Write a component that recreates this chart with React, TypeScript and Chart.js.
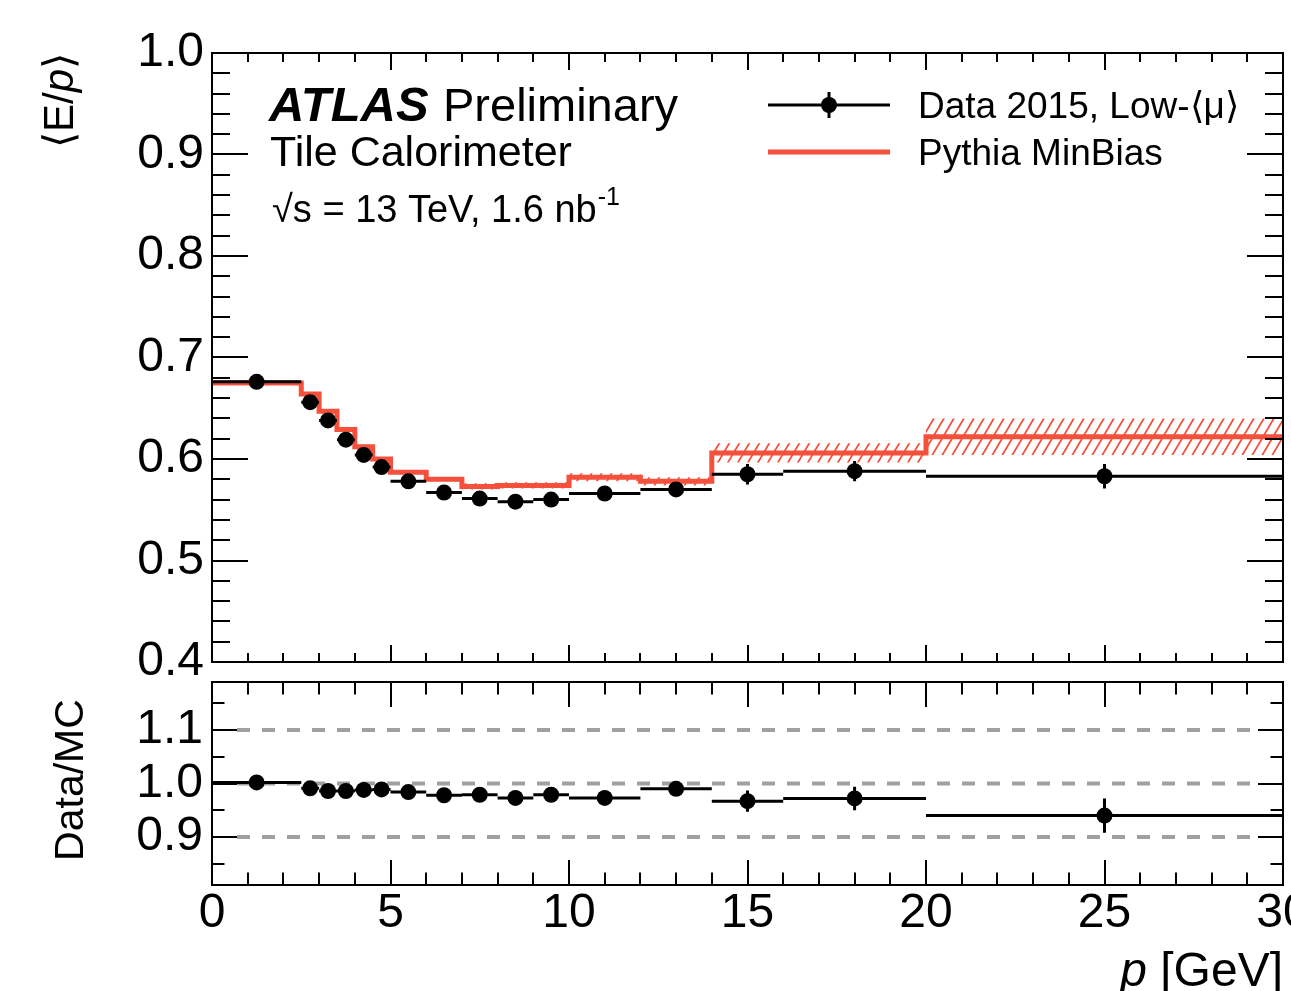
import React, { useEffect, useRef } from 'react';
import { Chart, registerables } from 'chart.js';

Chart.register(...registerables);

// ---------------- data ----------------
const binEdges = [0, 2.5, 3, 3.5, 4, 4.5, 5, 6, 7, 8, 9, 10, 12, 14, 16, 20, 30];
const dataEp = [0.676, 0.656, 0.638, 0.619, 0.604, 0.592, 0.578, 0.567, 0.561, 0.558, 0.56, 0.566, 0.57, 0.585, 0.588, 0.583];
const dataEpErr = [0.002, 0.002, 0.002, 0.002, 0.002, 0.002, 0.002, 0.002, 0.002, 0.002, 0.002, 0.003, 0.004, 0.01, 0.01, 0.012];
const mcEp = [0.675, 0.664, 0.647, 0.629, 0.612, 0.6, 0.587, 0.58, 0.573, 0.574, 0.574, 0.582, 0.578, 0.606, 0.606, 0.622];
const mcEpErr = [0.002, 0.002, 0.002, 0.002, 0.002, 0.002, 0.002, 0.002, 0.003, 0.003, 0.003, 0.004, 0.004, 0.0095, 0.0095, 0.018];
const ratio = [1.002, 0.991, 0.986, 0.986, 0.988, 0.989, 0.984, 0.978, 0.979, 0.973, 0.979, 0.973, 0.99, 0.967, 0.972, 0.94];
const ratioErr = [0.004, 0.004, 0.004, 0.004, 0.004, 0.004, 0.004, 0.004, 0.004, 0.004, 0.004, 0.005, 0.009, 0.02, 0.022, 0.032];

const xTickLabels = [0, 5, 10, 15, 20, 25, 30];
const yTopTickLabels = [0.4, 0.5, 0.6, 0.7, 0.8, 0.9, 1.0];
const yRatioTickLabels = [0.9, 1.0, 1.1];
const ratioRefLines = [0.9, 1.0, 1.1];

// ---------------- style ----------------
const FONT = "'Liberation Sans', Arial, Helvetica, sans-serif";
const RED = '#f4503c';
const W = 1291;
const TOP_H = 700;
const BOT_TOP = 672;
const BOT_H = 319;

type Pt = { x: number; y: number | null };

function stepPoints(vals: number[]): Pt[] {
  const pts: Pt[] = vals.map((v, i) => ({ x: binEdges[i], y: v }));
  pts.push({ x: binEdges[binEdges.length - 1], y: vals[vals.length - 1] });
  return pts;
}
function hBars(vals: number[]): Pt[] {
  const pts: Pt[] = [];
  vals.forEach((v, i) => {
    pts.push({ x: binEdges[i], y: v }, { x: binEdges[i + 1], y: v }, { x: binEdges[i + 1], y: null });
  });
  return pts;
}
function centers(): number[] {
  return binEdges.slice(0, -1).map((e, i) => (e + binEdges[i + 1]) / 2);
}
function vBars(vals: number[], errs: number[]): Pt[] {
  const c = centers();
  const pts: Pt[] = [];
  vals.forEach((v, i) => {
    pts.push({ x: c[i], y: v - errs[i] }, { x: c[i], y: v + errs[i] }, { x: c[i], y: null });
  });
  return pts;
}
function markers(vals: number[]): Pt[] {
  const c = centers();
  return vals.map((v, i) => ({ x: c[i], y: v }));
}

function makeHatch(): CanvasPattern | string {
  const c = document.createElement('canvas');
  c.width = 10;
  c.height = 17;
  const g = c.getContext('2d');
  if (!g) return RED;
  g.strokeStyle = RED;
  g.lineWidth = 1.8;
  g.beginPath();
  g.moveTo(-1, 18.7);
  g.lineTo(11, -1.7);
  g.moveTo(-11, 18.7);
  g.lineTo(1, -1.7);
  g.moveTo(9, 18.7);
  g.lineTo(21, -1.7);
  g.stroke();
  return g.createPattern(c, 'repeat') || RED;
}

// frame + inward ticks on four sides
function framePlugin(opts: {
  xMinor: number; xMajor: number; yMinor: number; yMajor: number;
  xMajLen: number; xMinLen: number; yMajLen: number; yMinLen: number;
  refLines?: number[];
}) {
  const ticksOf = (min: number, max: number, minor: number, major: number) => {
    const out: { v: number; major: boolean }[] = [];
    const k0 = Math.ceil(min / minor - 1e-6);
    const k1 = Math.floor(max / minor + 1e-6);
    for (let k = k0; k <= k1; k++) {
      const v = k * minor;
      if (Math.abs(v - min) < 1e-9 || Math.abs(v - max) < 1e-9) continue;
      const r = v / major;
      out.push({ v, major: Math.abs(r - Math.round(r)) < 1e-6 });
    }
    return out;
  };
  return {
    id: 'frameTicks',
    beforeDatasetsDraw(chart: any) {
      if (!opts.refLines) return;
      const { ctx, chartArea: a, scales } = chart;
      ctx.save();
      ctx.strokeStyle = '#a0a0a0';
      ctx.lineWidth = 4;
      ctx.setLineDash([13, 12]);
      opts.refLines.forEach((v) => {
        const y = scales.y.getPixelForValue(v);
        ctx.beginPath();
        ctx.moveTo(a.left + opts.yMajLen, y);
        ctx.lineTo(a.right - opts.yMajLen, y);
        ctx.stroke();
      });
      ctx.restore();
    },
    afterDatasetsDraw(chart: any) {
      const { ctx, chartArea: a, scales } = chart;
      const xs = scales.x;
      const ys = scales.y;
      ctx.save();
      ctx.strokeStyle = '#000';
      ctx.lineWidth = 2;
      ctx.setLineDash([]);
      ctx.beginPath();
      ticksOf(xs.min, xs.max, opts.xMinor, opts.xMajor).forEach((t) => {
        const x = Math.round(xs.getPixelForValue(t.v));
        const L = t.major ? opts.xMajLen : opts.xMinLen;
        ctx.moveTo(x, a.top);
        ctx.lineTo(x, a.top + L);
        ctx.moveTo(x, a.bottom);
        ctx.lineTo(x, a.bottom - L);
      });
      ticksOf(ys.min, ys.max, opts.yMinor, opts.yMajor).forEach((t) => {
        const y = Math.round(ys.getPixelForValue(t.v));
        const L = t.major ? opts.yMajLen : opts.yMinLen;
        ctx.moveTo(a.left, y);
        ctx.lineTo(a.left + L, y);
        ctx.moveTo(a.right, y);
        ctx.lineTo(a.right - L, y);
      });
      ctx.stroke();
      ctx.strokeRect(a.left, a.top, a.right - a.left, a.bottom - a.top);
      ctx.restore();
    },
  };
}

const topTextPlugin = {
  id: 'topText',
  afterDraw(chart: any) {
    const ctx: CanvasRenderingContext2D = chart.ctx;
    ctx.save();
    ctx.fillStyle = '#000';
    ctx.textBaseline = 'alphabetic';
    ctx.textAlign = 'left';
    // ATLAS label
    ctx.font = `italic bold 49px ${FONT}`;
    ctx.fillText('ATLAS', 269, 121);
    ctx.font = `47px ${FONT}`;
    ctx.fillText('Preliminary', 443, 121);
    ctx.font = `43px ${FONT}`;
    ctx.fillText('Tile Calorimeter', 270, 166);
    ctx.font = `38px ${FONT}`;
    const lumi = '\u221As = 13 TeV, 1.6 nb';
    ctx.fillText(lumi, 272, 222);
    const lw = ctx.measureText(lumi).width;
    ctx.font = `25px ${FONT}`;
    ctx.fillText('-1', 272 + lw + 1, 205);

    // legend
    ctx.strokeStyle = '#000';
    ctx.lineWidth = 3;
    ctx.beginPath();
    ctx.moveTo(768, 105);
    ctx.lineTo(890, 105);
    ctx.moveTo(829, 92);
    ctx.lineTo(829, 118);
    ctx.stroke();
    ctx.beginPath();
    ctx.arc(829, 105, 8, 0, Math.PI * 2);
    ctx.fill();
    ctx.strokeStyle = RED;
    ctx.lineWidth = 5;
    ctx.beginPath();
    ctx.moveTo(768, 152);
    ctx.lineTo(890, 152);
    ctx.stroke();
    ctx.font = `37px ${FONT}`;
    ctx.fillText('Data 2015, Low-\u27E8\u03BC\u27E9', 918, 118);
    ctx.fillText('Pythia MinBias', 918, 165);

    // y title  <E/p>
    const parts: [string, string][] = [
      ['\u27E8E/', `42px ${FONT}`],
      ['p', `italic 42px ${FONT}`],
      ['\u27E9', `42px ${FONT}`],
    ];
    let total = 0;
    parts.forEach(([t, f]) => {
      ctx.font = f;
      total += ctx.measureText(t).width;
    });
    ctx.translate(73, 53 + total);
    ctx.rotate(-Math.PI / 2);
    let x = 0;
    parts.forEach(([t, f]) => {
      ctx.font = f;
      ctx.fillText(t, x, 0);
      x += ctx.measureText(t).width;
    });
    ctx.restore();
  },
};

const botTextPlugin = {
  id: 'botText',
  afterDraw(chart: any) {
    const ctx: CanvasRenderingContext2D = chart.ctx;
    ctx.save();
    ctx.fillStyle = '#000';
    ctx.textBaseline = 'alphabetic';
    // x title
    ctx.font = `48px ${FONT}`;
    const rest = ' [GeV]';
    const rw = ctx.measureText(rest).width;
    ctx.textAlign = 'right';
    ctx.fillText(rest, 1283, 986 - BOT_TOP);
    ctx.font = `italic 48px ${FONT}`;
    ctx.fillText('p', 1283 - rw, 986 - BOT_TOP);
    // y title
    ctx.font = `41px ${FONT}`;
    ctx.textAlign = 'center';
    ctx.translate(83, 780 - BOT_TOP);
    ctx.rotate(-Math.PI / 2);
    ctx.fillText('Data/MC', 0, 0);
    ctx.restore();
  },
};

const tickFont = { family: FONT, size: 48 };

function lineDs(data: Pt[], color: string, width: number, order: number, extra: any = {}) {
  return {
    data,
    borderColor: color,
    borderWidth: width,
    pointRadius: 0,
    tension: 0,
    spanGaps: false,
    fill: false,
    order,
    borderCapStyle: 'butt',
    ...extra,
  };
}

function markerDs(data: Pt[], order: number) {
  return {
    data,
    showLine: false,
    pointRadius: 8,
    pointBackgroundColor: '#000',
    pointBorderColor: '#000',
    pointBorderWidth: 0,
    borderColor: '#000',
    order,
  };
}

export default function App() {
  const topRef = useRef<HTMLCanvasElement>(null);
  const botRef = useRef<HTMLCanvasElement>(null);

  useEffect(() => {
    const hatch = makeHatch();
    const mcUp = mcEp.map((v, i) => v + mcEpErr[i]);
    const mcDn = mcEp.map((v, i) => v - mcEpErr[i]);

    const topChart = new Chart(topRef.current as HTMLCanvasElement, {
      type: 'line',
      data: {
        datasets: [
          lineDs(stepPoints(mcUp), 'transparent', 1, 5, { stepped: true, fill: { target: '+1' }, backgroundColor: hatch }),
          lineDs(stepPoints(mcDn), 'transparent', 1, 6, { stepped: true }),
          lineDs(stepPoints(mcEp), RED, 5, 3, { stepped: true }),
          lineDs(hBars(dataEp), '#000', 3, 2),
          lineDs(vBars(dataEp, dataEpErr), '#000', 3, 1),
          markerDs(markers(dataEp), 0),
        ] as any,
      },
      options: {
        responsive: false,
        animation: false,
        devicePixelRatio: 1,
        layout: { padding: { left: 0, right: 8, top: 53, bottom: TOP_H - 662 } },
        plugins: { legend: { display: false }, tooltip: { enabled: false }, title: { display: false } },
        scales: {
          x: { type: 'linear', min: 0, max: 30, display: false },
          y: {
            type: 'linear',
            min: 0.4,
            max: 1.0,
            afterBuildTicks: (s: any) => {
              s.ticks = yTopTickLabels.map((v) => ({ value: v }));
            },
            afterFit: (s: any) => {
              s.width = 212;
              s.paddingTop = 0;
              s.paddingBottom = 0;
            },
            grid: { display: false, drawTicks: false },
            border: { display: false },
            ticks: {
              font: tickFont,
              color: '#000',
              padding: 8,
              autoSkip: false,
              callback: (v: any) => Number(v).toFixed(1),
            },
          },
        },
      } as any,
      plugins: [
        framePlugin({ xMinor: 1, xMajor: 5, yMinor: 0.02, yMajor: 0.1, xMajLen: 17, xMinLen: 9, yMajLen: 36, yMinLen: 18 }),
        topTextPlugin,
      ],
    });

    const botChart = new Chart(botRef.current as HTMLCanvasElement, {
      type: 'line',
      data: {
        datasets: [
          lineDs(hBars(ratio), '#000', 3, 2),
          lineDs(vBars(ratio, ratioErr), '#000', 3, 1),
          markerDs(markers(ratio), 0),
        ] as any,
      },
      options: {
        responsive: false,
        animation: false,
        devicePixelRatio: 1,
        layout: { padding: { left: 0, right: 8, top: 682 - BOT_TOP, bottom: 0 } },
        plugins: { legend: { display: false }, tooltip: { enabled: false }, title: { display: false } },
        scales: {
          x: {
            type: 'linear',
            min: 0,
            max: 30,
            afterBuildTicks: (s: any) => {
              s.ticks = xTickLabels.map((v) => ({ value: v }));
            },
            afterFit: (s: any) => {
              s.height = BOT_H - (885 - BOT_TOP);
              s.paddingLeft = 0;
              s.paddingRight = 0;
            },
            grid: { display: false, drawTicks: false },
            border: { display: false },
            ticks: {
              font: tickFont,
              color: '#000',
              padding: 0,
              maxRotation: 0,
              autoSkip: false,
              callback: (v: any) => String(v),
            },
          },
          y: {
            type: 'linear',
            min: 0.81,
            max: 1.19,
            afterBuildTicks: (s: any) => {
              s.ticks = yRatioTickLabels.map((v) => ({ value: v }));
            },
            afterFit: (s: any) => {
              s.width = 212;
              s.paddingTop = 0;
              s.paddingBottom = 0;
            },
            grid: { display: false, drawTicks: false },
            border: { display: false },
            ticks: {
              font: tickFont,
              color: '#000',
              padding: 9,
              autoSkip: false,
              callback: (v: any) => Number(v).toFixed(1),
            },
          },
        },
      } as any,
      plugins: [
        framePlugin({
          xMinor: 1, xMajor: 5, yMinor: 0.05, yMajor: 0.1,
          xMajLen: 25, xMinLen: 12.5, yMajLen: 25, yMinLen: 12.5,
          refLines: ratioRefLines,
        }),
        botTextPlugin,
      ],
    });

    return () => {
      topChart.destroy();
      botChart.destroy();
    };
  }, []);

  return (
    <div style={{ position: 'absolute', left: 0, top: 0, width: W, height: 991, overflow: 'hidden', background: '#fff' }}>
      <canvas ref={topRef} width={W} height={TOP_H} style={{ position: 'absolute', left: 0, top: 0 }} />
      <canvas ref={botRef} width={W} height={BOT_H} style={{ position: 'absolute', left: 0, top: BOT_TOP }} />
    </div>
  );
}
